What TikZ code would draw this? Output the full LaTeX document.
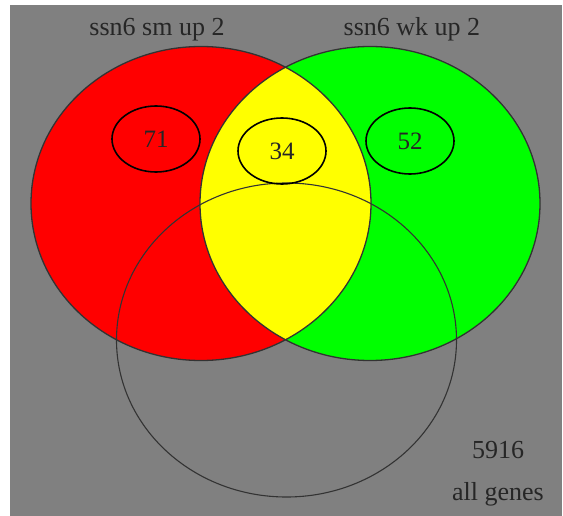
\documentclass[tikz,border=0pt]{standalone}
\usepackage{fontspec}
\setmainfont{Liberation Serif}
\usetikzlibrary{shapes.geometric}
\definecolor{bggray}{HTML}{808080}
\definecolor{setred}{HTML}{FF0000}
\definecolor{setgreen}{HTML}{00FF00}
\definecolor{setyellow}{HTML}{FFFF00}
\tikzset{
  label text/.style={font=\fontsize{26}{30}\selectfont, inner sep=0pt, text=black!85},
  count/.style={ellipse, draw=black, line width=1.6pt, minimum width=88pt,
    minimum height=66pt, inner sep=0pt, font=\fontsize{25}{30}\selectfont, text=black!85},
  set outline/.style={draw=black!80, line width=1.3pt},
}
\begin{document}
\begin{tikzpicture}[x=1pt,y=-1pt]
  \useasboundingbox (0,0) rectangle (563,516);
  % background panel
  \fill[bggray] (10,5) rectangle (562,516);
  % the two coloured sets and their overlap
  \fill[setred]   (201,203.5) ellipse [x radius=170, y radius=157];
  \fill[setgreen] (370,203.5) ellipse [x radius=170, y radius=157];
  \begin{scope}
    \clip (201,203.5) ellipse [x radius=170, y radius=157];
    \fill[setyellow] (370,203.5) ellipse [x radius=170, y radius=157];
  \end{scope}
  \draw[set outline] (201,203.5) ellipse [x radius=170, y radius=157];
  \draw[set outline] (370,203.5) ellipse [x radius=170, y radius=157];
  % the "all genes" set
  \draw[set outline, line width=1.1pt] (286.5,340) ellipse [x radius=170, y radius=157];
  % counts
  \node[count] (smonly) at (156,139) {71};
  \node[count] (both)   at (282,151) {34};
  \node[count] (wkonly) at (410,141) {52};
  % set names
  \node[label text, anchor=base] (smname) at (157,36) {ssn6 sm up 2};
  \node[label text, anchor=base] (wkname) at (412,36) {ssn6 wk up 2};
  \node[label text, anchor=base] (total) at (498,458) {5916};
  \node[label text, anchor=base] (allname) at (498,500) {all genes};
\end{tikzpicture}
\end{document}
